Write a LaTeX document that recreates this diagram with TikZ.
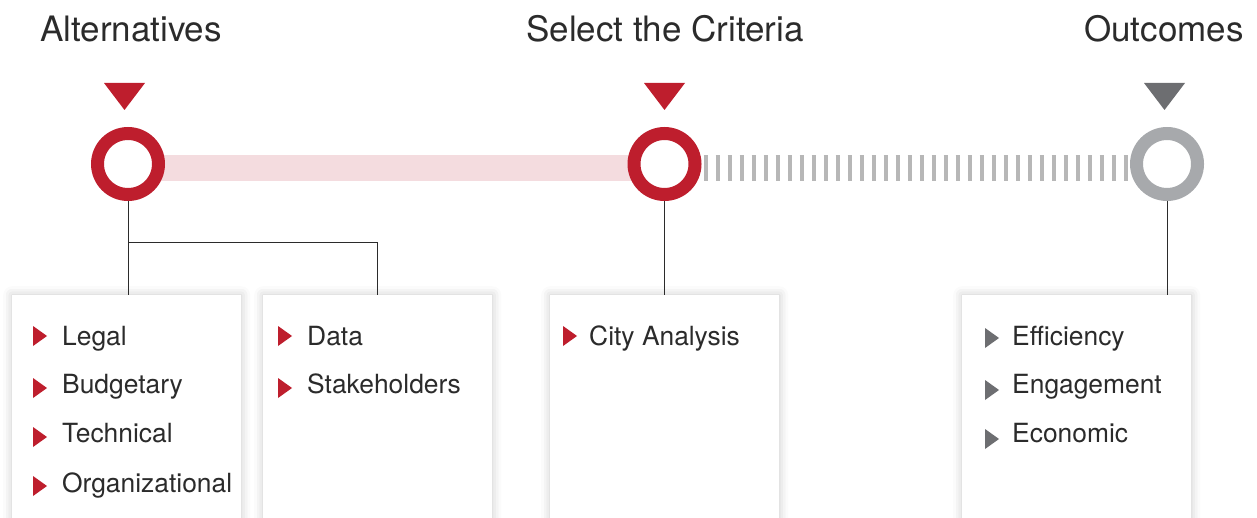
\documentclass[tikz,border=0pt]{standalone}
\usepackage{fontspec}
\setmainfont{TeX Gyre Heros}
\usetikzlibrary{shadows.blur}
\definecolor{cityred}{HTML}{BE1E2D}
\definecolor{barpink}{HTML}{F4DCDF}
\definecolor{ringgrey}{HTML}{A7A9AC}
\definecolor{tickgrey}{HTML}{B7B7B7}
\definecolor{darkgrey}{HTML}{6D6E71}
\definecolor{inkgrey}{HTML}{2B2B2B}
\tikzstyle{ring}=[circle, draw=cityred, fill=white, line width=13pt, minimum size=61pt, inner sep=0pt]
\tikzstyle{card}=[rectangle, fill=white, anchor=north west, minimum width=229pt, minimum height=250pt, blur shadow={shadow xshift=0pt, shadow yshift=0pt, shadow blur radius=9pt, shadow opacity=22}]
\tikzstyle{title}=[anchor=base, text=inkgrey, inner sep=0pt, font=\fontsize{35}{42}\selectfont]
\tikzstyle{entry}=[anchor=base west, text=inkgrey, inner sep=0pt, font=\fontsize{26.4}{30}\selectfont]
\tikzstyle{link}=[draw=inkgrey, line width=1pt]

\begin{document}
\begin{tikzpicture}[x=1pt, y=-1pt]
                \useasboundingbox (0,0) rectangle (1257,518);
                \clip (0,0) rectangle (1257,518);
                \node[title] (talt) at (131,42) {Alternatives};
                \node[title] (tcrit) at (665,42) {Select the Criteria};
                \node[title] (tout) at (1164,42) {Outcomes};
                \fill[cityred] (104,83) -- (145,83) -- (124.5,110) -- cycle;
                \fill[cityred] (644,83) -- (685,83) -- (664.5,110) -- cycle;
                \fill[darkgrey] (1144,83) -- (1185,83) -- (1164.5,110) -- cycle;
                \coordinate (a0) at (128,164);
                \coordinate (c0) at (664.5,164);
                \coordinate (o0) at (1167,164);
                \draw[barpink, line width=26pt] ([yshift=-4pt]a0) -- ([yshift=-4pt]c0);
                \node[ring] (alt) at (a0) {};
                \node[ring] (crit) at (c0) {};
                \node[ring, draw=ringgrey] (out) at (o0) {};
                \draw[tickgrey, line width=26pt, dash pattern=on 4pt off 8pt, shorten <=2pt] ([yshift=-4pt]crit.east) -- ([yshift=-4pt]out.west);
                \node[card] (c1) at (12,295) {};
                \node[card] (c2) at (263,295) {};
                \node[card] (c3) at (550,295) {};
                \node[card] (c4) at (962,295) {};
                \draw[link] (alt) -- (alt |- c1.north);
                \draw[link] (alt |- 0,243) -| (c2.north);
                \draw[link] (crit) -- (crit |- c3.north);
                \draw[link] (out) -- (out |- c4.north);
                \node[entry] (legal) at (62,345) {Legal};
                \node[entry] (budget) at (62,393) {Budgetary};
                \node[entry] (tech) at (62,442) {Technical};
                \node[entry] (org) at (62,492) {Organizational};
                \node[entry] (data) at (307,345) {Data};
                \node[entry] (stake) at (307,393) {Stakeholders};
                \node[entry] (city) at (589,345) {City Analysis};
                \node[entry] (eff) at (1012,345) {Efficiency};
                \node[entry] (eng) at (1012,393) {Engagement};
                \node[entry] (eco) at (1012,442) {Economic};
                \fill[cityred] (33,326) -- (47,336) -- (33,346) -- cycle;
                \fill[cityred] (33,378) -- (47,388) -- (33,398) -- cycle;
                \fill[cityred] (33,427) -- (47,437) -- (33,447) -- cycle;
                \fill[cityred] (33,476) -- (47,486) -- (33,496) -- cycle;
                \fill[cityred] (278,326) -- (292,336) -- (278,346) -- cycle;
                \fill[cityred] (278,378) -- (292,388) -- (278,398) -- cycle;
                \fill[cityred] (563,326) -- (577,336) -- (563,346) -- cycle;
                \fill[darkgrey] (985,328) -- (999,338) -- (985,348) -- cycle;
                \fill[darkgrey] (985,380) -- (999,390) -- (985,400) -- cycle;
                \fill[darkgrey] (985,429) -- (999,439) -- (985,449) -- cycle;
            \end{tikzpicture}
\end{document}
